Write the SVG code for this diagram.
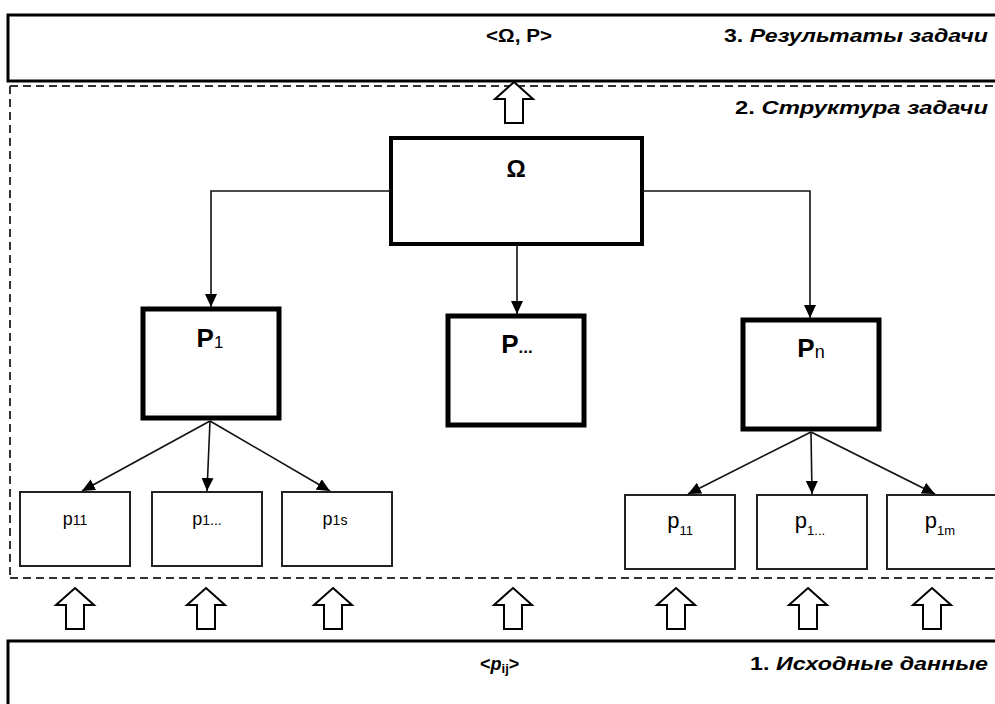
<svg xmlns="http://www.w3.org/2000/svg" xmlns:xlink="http://www.w3.org/1999/xlink" width="995" height="704" viewBox="0 0 995 704">
<style>
  text { font-family: "Liberation Sans", Arial, sans-serif; fill: #000; }
  .lbl { font-size: 18px; font-weight: bold; font-style: italic; }
  .up { font-style: normal; }
  .band { fill: #fff; stroke: #000; stroke-width: 3; }
  .dash { fill: none; stroke: #333; stroke-width: 2; stroke-dasharray: 8 5; }
  .big { fill: #fff; stroke: #000; stroke-width: 5; }
  .omega { fill: #fff; stroke: #000; stroke-width: 4; }
  .small { fill: #fff; stroke: #222; stroke-width: 2; }
  .con { fill: none; stroke: #111; stroke-width: 1.6; marker-end: url(#ah); }
  .hollow { fill: #fff; stroke: #000; stroke-width: 2; stroke-linejoin: miter; }
  .P { font-size: 26px; font-weight: bold; }
  .ps { font-size: 18px; }
  .pr { font-size: 22px; }
</style>
<defs>
  <marker id="ah" markerUnits="userSpaceOnUse" markerWidth="13" markerHeight="12" refX="13" refY="6" orient="auto">
    <path d="M0,0 L13,6 L0,12 Z" fill="#000"/>
  </marker>
  <path id="hup" d="M0,0 L19,17 L9,17 L9,41 L-9,41 L-9,17 L-19,17 Z"/>
</defs>

<!-- bands -->
<g id="band-results">
  <rect class="band" x="8" y="15" width="1000" height="66"/>
  <text x="486" y="42" font-size="18" font-weight="bold" textLength="66" lengthAdjust="spacingAndGlyphs">&lt;Ω, P&gt;</text>
  <text class="lbl" x="724" y="42" textLength="264" lengthAdjust="spacingAndGlyphs"><tspan class="up">3. </tspan>Результаты задачи</text>
</g>

<g id="band-structure">
  <line class="dash" x1="10" y1="86" x2="995" y2="86" stroke-dasharray="8 8" stroke-width="1.6"/>
  <line class="dash" x1="10" y1="86" x2="10" y2="578"/>
  <line class="dash" x1="10" y1="578" x2="995" y2="578"/>
  <text class="lbl" x="735" y="114" textLength="253" lengthAdjust="spacingAndGlyphs"><tspan class="up">2. </tspan>Структура задачи</text>
</g>

<g id="band-input">
  <rect class="band" x="8" y="641" width="1000" height="80"/>
  <text x="480" y="670" font-size="18" font-weight="bold">&lt;<tspan font-style="italic">p</tspan><tspan font-size="13" dy="3">ij</tspan><tspan dy="-3">&gt;</tspan></text>
  <text class="lbl" x="750" y="670" textLength="238" lengthAdjust="spacingAndGlyphs"><tspan class="up">1. </tspan>Исходные данные</text>
</g>

<!-- nodes -->
<g id="node-omega">
  <rect class="omega" x="391" y="138" width="251" height="106"/>
  <text x="516" y="177" font-size="24" font-weight="bold" text-anchor="middle">Ω</text>
</g>
<g id="node-P1">
  <rect class="big" x="143" y="309" width="136" height="109"/>
  <text x="210" y="347" text-anchor="middle"><tspan class="P">P</tspan><tspan font-size="17" dy="1">1</tspan></text>
</g>
<g id="node-Pdots">
  <rect class="big" x="448" y="316" width="136" height="109"/>
  <text x="517" y="353" text-anchor="middle"><tspan class="P">P</tspan><tspan font-size="17" font-weight="bold">...</tspan></text>
</g>
<g id="node-Pn">
  <rect class="big" x="743" y="320" width="136" height="109"/>
  <text x="811" y="357" text-anchor="middle"><tspan class="P">P</tspan><tspan font-size="18" dy="1">n</tspan></text>
</g>

<g id="node-p11-a">
  <rect class="small" x="20" y="492" width="110" height="74"/>
  <text x="75" y="525" text-anchor="middle"><tspan class="ps">p</tspan><tspan font-size="14">11</tspan></text>
</g>
<g id="node-p1dots-a">
  <rect class="small" x="152" y="492" width="110" height="74"/>
  <text x="207" y="525" text-anchor="middle"><tspan class="ps">p</tspan><tspan font-size="14">1...</tspan></text>
</g>
<g id="node-p1s">
  <rect class="small" x="282" y="492" width="110" height="74"/>
  <text x="335" y="525" text-anchor="middle"><tspan class="ps">p</tspan><tspan font-size="14">1s</tspan></text>
</g>

<g id="node-p11-b">
  <rect class="small" x="625" y="495" width="110" height="74"/>
  <text x="680" y="528" text-anchor="middle"><tspan class="pr">p</tspan><tspan font-size="13" dy="7">11</tspan></text>
</g>
<g id="node-p1dots-b">
  <rect class="small" x="757" y="495" width="110" height="74"/>
  <text x="810" y="528" text-anchor="middle"><tspan class="pr">p</tspan><tspan font-size="13" dy="7">1...</tspan></text>
</g>
<g id="node-p1m">
  <rect class="small" x="887" y="495" width="110" height="74"/>
  <text x="940" y="528" text-anchor="middle"><tspan class="pr">p</tspan><tspan font-size="13" dy="7">1m</tspan></text>
</g>

<!-- connectors -->
<g id="connectors">
  <path class="con" d="M391,191 H211 V307"/>
  <path class="con" d="M642,191 H810 V318"/>
  <path class="con" d="M517,246 V314"/>
  <path class="con" d="M210,421 L82,491"/>
  <path class="con" d="M210,421 L207,491"/>
  <path class="con" d="M210,421 L330,491"/>
  <path class="con" d="M811,432 L688,494"/>
  <path class="con" d="M811,432 L812,494"/>
  <path class="con" d="M811,432 L935,494"/>
  <!-- hollow block arrows -->
  <use href="#hup" xlink:href="#hup" class="hollow" transform="translate(514,82)"/>
  <use href="#hup" xlink:href="#hup" class="hollow" transform="translate(75,588)"/>
  <use href="#hup" xlink:href="#hup" class="hollow" transform="translate(206,588)"/>
  <use href="#hup" xlink:href="#hup" class="hollow" transform="translate(333,588)"/>
  <use href="#hup" xlink:href="#hup" class="hollow" transform="translate(513,588)"/>
  <use href="#hup" xlink:href="#hup" class="hollow" transform="translate(676,588)"/>
  <use href="#hup" xlink:href="#hup" class="hollow" transform="translate(808,588)"/>
  <use href="#hup" xlink:href="#hup" class="hollow" transform="translate(932,588)"/>
</g>
</svg>
